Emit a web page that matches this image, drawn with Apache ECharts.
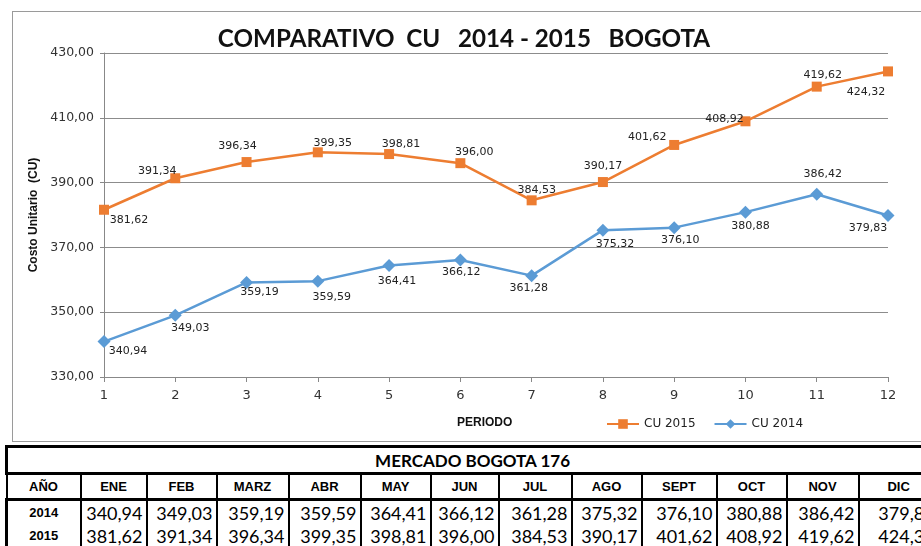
<!DOCTYPE html>
<html>
<head>
<meta charset="utf-8">
<script src="https://cdn.jsdelivr.net/npm/echarts@6/dist/echarts.min.js"></script>
<style>
  html, body { margin: 0; padding: 0; width: 921px; height: 546px; overflow: hidden; background: #fff; }
  #chart { position: absolute; left: 12px; top: 11px; width: 920px; height: 429px; border: 1px solid #9a9a9a; }
  #tabla { position: absolute; left: 5px; top: 445px; width: 932px; min-width: 932px; border-collapse: collapse; table-layout: fixed; background: #fff; }
  #tabla td { padding: 0; overflow: hidden; white-space: nowrap; }
  #tabla .tit td { height: 24px; border: 3px solid #000; font: bold 17px Lato, sans-serif; text-align: center; }
  #tabla .hdr td { height: 23px; border: 2px solid #000; border-bottom-width: 3px; font: bold 13px "Liberation Sans", Arial, sans-serif; text-align: center; }
  #tabla .dat td { height: 23px; border-left: 2px solid #000; border-right: 2px solid #000; font: 18px Lato, sans-serif; text-align: right; padding-right: 3px; color: #000; }
  #tabla .dat td.yr { font: bold 13px "Liberation Sans", Arial, sans-serif; text-align: center; padding-right: 0; border-left: 3px solid #000; }
</style>
</head>
<body>
<div id="chart"></div>
<table id="tabla"></table>
<script>
// periodos y valores
const periodos = ['1', '2', '3', '4', '5', '6', '7', '8', '9', '10', '11', '12'];
const meses = ['ENE', 'FEB', 'MARZ', 'ABR', 'MAY', 'JUN', 'JUL', 'AGO', 'SEPT', 'OCT', 'NOV', 'DIC'];
const cu2014 = [340.94, 349.03, 359.19, 359.59, 364.41, 366.12, 361.28, 375.32, 376.10, 380.88, 386.42, 379.83];
const cu2015 = [381.62, 391.34, 396.34, 399.35, 398.81, 396.00, 384.53, 390.17, 401.62, 408.92, 419.62, 424.32];
const yTicks = [330, 350, 370, 390, 410, 430];

// desplazamiento de etiquetas (px) respecto al punto
const off2015 = [[25, 10], [-18, -7], [-9, -16], [15, -9], [12, -10], [14, -11], [5, -10], [0, -16], [-27, -8], [-21, -2], [6, -11], [-22, 21]];
const off2014 = [[24, 10], [15, 13], [13, 10], [14, 16], [8, 16], [1, 12], [-3, 12], [12, 14], [6, 13], [5, 14], [6, -20], [-20, 13]];
const colWidths = [74, 66, 70, 72, 72, 70, 68, 73, 70, 75, 70, 72, 80];

const fmt = v => v.toFixed(2).replace('.', ',');

let myChart = echarts.init(document.getElementById('chart'));

function serie(name, values, offs, color, symbol, size) {
    return {
        name: name,
        type: 'line',
        data: values.map((v, i) => ({ value: v, label: { offset: offs[i] } })),
        symbol: symbol,
        symbolSize: size,
        lineStyle: { color: color, width: 2.5 },
        itemStyle: { color: color },
        label: {
            show: true,
            position: 'inside',
            formatter: p => fmt(p.value),
            fontFamily: 'DejaVu Sans',
            fontSize: 11,
            color: '#222'
        },
        animation: false
    };
}

myChart.setOption({
    backgroundColor: '#fff',
    title: {
        text: 'COMPARATIVO  CU   2014 - 2015   BOGOTA',
        left: 446,
        top: 10,
        textAlign: 'center',
        textStyle: { fontFamily: 'Lato', fontWeight: 'bold', fontSize: 24.2, color: '#111' }
    },
    legend: {
        left: 588,
        top: 401,
        itemWidth: 32,
        itemHeight: 12,
        itemGap: 18,
        textStyle: { fontFamily: 'DejaVu Sans', fontSize: 12, color: '#222' },
        data: ['CU 2015', 'CU 2014']
    },
    graphic: [{
        type: 'text',
        left: 444,
        top: 405,
        style: { text: 'PERIODO', font: 'bold 12px "Liberation Sans"', fill: '#111' }
    }],
    grid: { left: 91, top: 41, width: 784, height: 324 },
    xAxis: {
        type: 'category',
        data: periodos,
        boundaryGap: false,
        axisLine: { lineStyle: { color: '#888' } },
        axisTick: { show: true, length: 5, lineStyle: { color: '#888' } },
        axisLabel: { margin: 12, fontFamily: 'DejaVu Sans', fontSize: 13, color: '#333' }
    },
    yAxis: {
        type: 'value',
        min: yTicks[0],
        max: yTicks[yTicks.length - 1],
        interval: 20,
        name: 'Costo Unitario  (CU)',
        nameLocation: 'middle',
        nameGap: 62,
        nameTextStyle: { fontFamily: 'Liberation Sans', fontWeight: 'bold', fontSize: 12, color: '#111' },
        axisLine: { show: true, lineStyle: { color: '#888' } },
        axisTick: { show: true, length: 4, lineStyle: { color: '#888' } },
        splitLine: { lineStyle: { color: '#8c8c8c' } },
        axisLabel: { margin: 10, formatter: v => fmt(v), fontFamily: 'DejaVu Sans', fontSize: 12.5, color: '#333' }
    },
    series: [
        serie('CU 2015', cu2015, off2015, '#ED7D31', 'rect', 10),
        serie('CU 2014', cu2014, off2014, '#5B9BD5', 'diamond', 13)
    ]
});

// tabla inferior
const tabla = document.getElementById('tabla');
let html = '<colgroup>' + colWidths.map(w => '<col style="width:' + w + 'px">').join('') + '</colgroup>';
html += '<tr class="tit"><td colspan="13">MERCADO BOGOTA 176</td></tr>';
html += '<tr class="hdr"><td>AÑO</td>' + meses.map(m => '<td>' + m + '</td>').join('') + '</tr>';
html += '<tr class="dat"><td class="yr">2014</td>' + cu2014.map(v => '<td>' + fmt(v) + '</td>').join('') + '</tr>';
html += '<tr class="dat"><td class="yr">2015</td>' + cu2015.map(v => '<td>' + fmt(v) + '</td>').join('') + '</tr>';
tabla.innerHTML = html;
</script>
</body>
</html>
